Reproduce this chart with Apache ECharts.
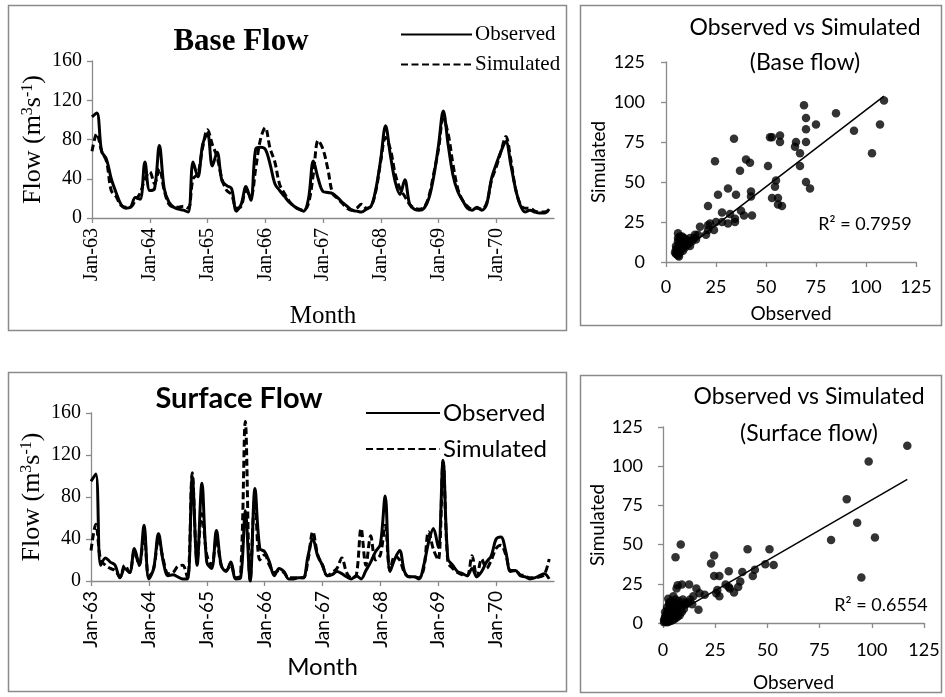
<!DOCTYPE html>
<html>
<head>
<meta charset="utf-8">
<script src="https://cdn.jsdelivr.net/npm/echarts@6/dist/echarts.min.js"></script>
<style>
html,body{margin:0;padding:0;background:#fff;}
#chart{width:945px;height:697px;}
</style>
</head>
<body>
<div id="chart"></div>
<script>
// Month labels Jan-63 ... Jan-71 (the last slot closes the axis)
const monthNames = ['Jan','Feb','Mar','Apr','May','Jun','Jul','Aug','Sep','Oct','Nov','Dec'];
const yearLabels = ['63','64','65','66','67','68','69','70'];
const endLabel = 'Jan-71';

// Monthly base flow (m3/s), 1963-1970
const baseObserved = [
  103,107,68,60,40,26,14,10,11,21,19,57,
  28,30,74,30,16,11,9,8,6,57,42,75,
  86,53,67,38,33,30,7,14,32,18,70,72,
  70,55,35,28,22,16,12,9,7,20,58,40,
  27,26,25,21,16,12,8,7,6,9,12,30,
  60,94,64,37,24,39,14,9,8,10,20,42,
  74,109,75,44,27,18,10,8,11,8,14,40,
  55,68,78,55,30,13,6,8,6,5,5,9
];
const baseSimulated = [
  68,86,68,58,28,22,13,11,11,18,25,40,
  47,35,50,28,14,11,11,12,10,40,45,72,
  90,75,62,40,28,24,10,12,28,22,50,80,
  92,71,57,34,25,17,12,9,8,15,45,79,
  70,50,25,20,15,10,8,10,14,10,12,28,
  58,82,70,45,30,22,14,10,9,11,22,45,
  70,101,86,55,30,18,12,9,10,9,15,38,
  52,68,83,60,30,14,10,10,7,6,6,8
];

// Monthly surface flow (m3/s), 1963-1970
const surfaceObserved = [
  95,102,15,22,18,15,3,12,8,31,15,53,
  2,12,45,18,5,6,4,2,2,99,15,93,
  18,12,48,15,9,18,2,3,67,0,88,31,
  28,18,5,12,9,2,2,3,3,24,40,24,
  15,5,6,9,7,4,2,5,2,10,18,28,
  35,81,9,21,29,9,4,4,2,15,37,50,
  32,115,21,15,9,7,5,12,4,9,18,24,
  40,42,28,9,10,5,4,2,3,5,7,2
];
const surfaceSimulated = [
  29,54,20,15,12,10,4,15,8,28,15,45,
  4,12,40,20,7,8,14,15,3,103,20,64,
  25,15,40,15,10,15,3,5,152,0,79,20,
  25,15,8,10,8,3,3,3,3,20,47,25,
  15,5,8,12,22,8,3,5,50,15,43,20,
  25,53,10,24,20,8,4,4,3,12,47,30,
  20,113,18,12,8,6,5,24,4,21,12,20,
  31,34,25,10,10,6,5,3,3,4,6,21
];

// Observed vs simulated pairs, base flow
const baseScatterObs = [109,107,103,94,85,75,69,70,70,70,65,64.5,67,67,70,72,57,57,52,53,51,55,54.5,53,56,56,58,34,40,42,37,24.5,31,35,26,42.5,42.5,43,21,32,28,37.5,39,34.5,34.5,31,28,25,22,24,21,21,20,17,16,14,14.5,15,12,10,9,7,6,
  5,5.5,6,6.5,7,7.5,8,8,9,9.5,10,6,5,7,8,11,12,6.5,5.5,7,9,6,10,12,13,5,4.5,8.5,11,7,6,9];
const baseScatterSim = [101,86,68,82,93,86,98,90,83,75,75,72,68,60,50,46,79,75,78,78,60,51,47,40,40,36,35,77,64,62,57,63,46,42,42,44,41,29,35,30,31,32,29,27,25,24,25,25,24,20,23,20,17,22,17,15,17,14,13,11,14,16,18,
  5,7,9,11,6,8,10,13,12,9,12,4,10,14,16,13,10,3.5,6,12,15,13,14,15,13,8,6,7,11,9,15,10];
const baseTrend = { slope: 0.96, intercept: -1.0, xFrom: 4.5, xTo: 109 };

// Observed vs simulated pairs, surface flow
const surfScatterObs = [117,98.5,88,93,101.5,80.5,95,51,40.5,49,53,44,43,38,37,36,34,31.5,31.5,30,32,24.5,23,24.5,27,26,25.5,27,8.5,6,7,9,6.5,12.5,16,20,17.5,14.5,13,17,9.5,10.5,5,2.5,3,
  0.5,1,1.5,2,2.5,3,3.5,4,4.5,5,1,1.5,2,2.5,3,3.5,4,5,5.5,6,6.5,7,7.5,8,9,10,11,12,1,2,3,4,5,6,0.5,1,2,3,4,5,6,7,8,2,3,4,5.5,7,9,14];
const surfScatterSim = [113,103,79,64,54.5,53,29,47,47,37.5,37,34,30,32.5,26.5,23,19.5,33,23,24.5,22,43,38,30,30,21,19,17,50,42,24,24.5,22,24.5,22,18,19,17,15,8.5,15,13,17,15.5,13,
  0.5,1,2,1,3,2,4,3,5,4,3,5,6,8,9,7,10,8,6,11,9,12,14,10,11,9,12,13,7,10,12,14,13,15,2,4,4,5,6,2,3,4,5,0.5,1,1.5,3,6,7,12];
const surfTrend = { slope: 0.77, intercept: 1.5, xFrom: 0.5, xTo: 117 };

// Category labels for the monthly axes
const months = [];
yearLabels.forEach(y => monthNames.forEach(m => months.push(m + '-' + y)));
months.push(endLabel);

const serif = 'Liberation Serif';
const sans = 'Lato';
const gray = '#8a8a8a';
const isYearStart = i => i % 12 === 0 && i < months.length - 1;

function trendPoints(t) {
  return [[t.xFrom, t.intercept + t.slope * t.xFrom], [t.xTo, t.intercept + t.slope * t.xTo]];
}
function pairs(xs, ys) { return xs.map((x, i) => [x, ys[i]]); }

function timeXAxis(grid, font, size, nameSize, gap, margin) {
  return {
    type: 'category', gridIndex: grid, data: months, boundaryGap: false,
    axisLine: { lineStyle: { color: gray, width: 1.3 } },
    axisTick: { interval: isYearStart, length: 5, lineStyle: { color: gray, width: 1.3 } },
    axisLabel: { interval: isYearStart, rotate: 90, margin: margin, color: '#000', fontFamily: font, fontSize: size },
    splitLine: { show: false },
    name: 'Month', nameLocation: 'middle', nameGap: gap,
    nameTextStyle: { fontFamily: font, fontSize: nameSize, color: '#000' }
  };
}
function flowYAxis(grid, size, nameSize, gap) {
  return {
    type: 'value', gridIndex: grid, min: 0, max: 160, interval: 40,
    axisLine: { show: true, lineStyle: { color: gray, width: 1.3 } },
    axisTick: { show: true, length: 5, lineStyle: { color: gray, width: 1.3 } },
    axisLabel: { margin: 10, color: '#000', fontFamily: serif, fontSize: size },
    splitLine: { show: false },
    name: '{n|Flow (m}{s|3}{n|s}{s|-1}{n|)}', nameLocation: 'middle', nameRotate: 90, nameGap: gap,
    nameTextStyle: { rich: {
      n: { fontFamily: serif, fontSize: nameSize, color: '#000' },
      s: { fontFamily: serif, fontSize: Math.round(nameSize * 0.62), color: '#000', verticalAlign: 'top' }
    } }
  };
}
function scatterAxis(dim, grid, name, gap, margin) {
  return {
    type: 'value', gridIndex: grid, min: 0, max: 125, interval: 25,
    axisLine: { show: true, lineStyle: { color: gray, width: 1.3 } },
    axisTick: { show: true, length: 5, lineStyle: { color: gray, width: 1.3 } },
    axisLabel: { margin: margin, color: '#000', fontFamily: sans, fontSize: 18 },
    splitLine: { show: false },
    name: name, nameLocation: 'middle', nameGap: gap,
    nameRotate: dim === 'y' ? 90 : 0,
    nameTextStyle: { fontFamily: sans, fontSize: 19, color: '#000' }
  };
}
function frame(x, y, w, h) {
  return { type: 'rect', silent: true, z: -10,
    shape: { x: x, y: y, width: w, height: h },
    style: { fill: 'transparent', stroke: gray, lineWidth: 1.5 } };
}
const solid = { color: '#000', width: 3, type: 'solid' };
const dashed = { color: '#000', width: 3, type: [7, 3.5] };

const chart = echarts.init(document.getElementById('chart'), null, { renderer: 'canvas' });
chart.setOption({
  animation: false,
  backgroundColor: '#fff',
  graphic: [
    frame(8.5, 5.5, 558, 325),
    frame(580.5, 5.5, 361, 320),
    frame(8.5, 372.5, 558, 319),
    frame(580.5, 375.5, 361, 317)
  ],
  title: [
    { text: 'Base Flow', left: 236, top: 21, textAlign: 'center',
      textStyle: { fontFamily: serif, fontWeight: 'bold', fontSize: 31, color: '#000' } },
    { text: 'Observed vs Simulated\n(Base flow)', left: 800, top: 5, textAlign: 'center',
      textStyle: { fontFamily: sans, fontWeight: 'normal', fontSize: 23, lineHeight: 35, color: '#000' } },
    { text: 'R² = 0.7959', left: 860, top: 210, textAlign: 'center',
      textStyle: { fontFamily: sans, fontWeight: 'normal', fontSize: 18, color: '#000' } },
    { text: 'Surface Flow', left: 234, top: 379, textAlign: 'center',
      textStyle: { fontFamily: sans, fontWeight: 'bold', fontSize: 29, color: '#000' } },
    { text: 'Observed vs Simulated\n(Surface flow)', left: 804, top: 373, textAlign: 'center',
      textStyle: { fontFamily: sans, fontWeight: 'normal', fontSize: 23, lineHeight: 37, color: '#000' } },
    { text: 'R² = 0.6554', left: 876, top: 591, textAlign: 'center',
      textStyle: { fontFamily: sans, fontWeight: 'normal', fontSize: 18, color: '#000' } }
  ],
  legend: [
    { data: ['Observed', 'Simulated'], orient: 'vertical', left: 395, top: 19,
      itemWidth: 71, itemHeight: 12, itemGap: 9, selectedMode: false,
      itemStyle: { opacity: 0 },
      textStyle: { fontFamily: serif, fontSize: 21, color: '#000', padding: [0, 0, 0, -2] } },
    { data: ['Observed', 'Simulated'], orient: 'vertical', left: 360, top: 396,
      itemWidth: 74, itemHeight: 12, itemGap: 12, selectedMode: false,
      itemStyle: { opacity: 0 },
      textStyle: { fontFamily: sans, fontSize: 24, color: '#000', padding: [0, 0, 0, -2] } }
  ],
  grid: [
    { left: 92, top: 61, width: 462, height: 157 },
    { left: 666, top: 62, width: 250, height: 200 },
    { left: 91, top: 413, width: 463, height: 168 },
    { left: 663, top: 427, width: 261, height: 196 }
  ],
  xAxis: [
    timeXAxis(0, serif, 20, 25, 86, 10),
    scatterAxis('x', 1, 'Observed', 42, 16),
    timeXAxis(2, sans, 19, 24, 74, 10),
    scatterAxis('x', 3, 'Observed', 50, 18)
  ],
  yAxis: [
    flowYAxis(0, 20, 26, 46),
    scatterAxis('y', 1, 'Simulated', 58, 21),
    flowYAxis(2, 20, 26, 46),
    scatterAxis('y', 3, 'Simulated', 50, 20)
  ],
  series: [
    { name: 'Observed', type: 'line', xAxisIndex: 0, yAxisIndex: 0, data: baseObserved,
      symbol: 'none', smooth: 0.35, lineStyle: solid, itemStyle: { color: '#000' } },
    { name: 'Simulated', type: 'line', xAxisIndex: 0, yAxisIndex: 0, data: baseSimulated,
      symbol: 'none', smooth: 0.35, lineStyle: dashed, itemStyle: { color: '#000' } },
    { name: 'Observed', type: 'line', xAxisIndex: 2, yAxisIndex: 2, data: surfaceObserved,
      symbol: 'none', smooth: 0.35, lineStyle: solid, itemStyle: { color: '#000' } },
    { name: 'Simulated', type: 'line', xAxisIndex: 2, yAxisIndex: 2, data: surfaceSimulated,
      symbol: 'none', smooth: 0.35, lineStyle: dashed, itemStyle: { color: '#000' } },
    { type: 'scatter', xAxisIndex: 1, yAxisIndex: 1, data: pairs(baseScatterObs, baseScatterSim),
      symbolSize: 8.5, itemStyle: { color: '#000' } },
    { type: 'line', xAxisIndex: 1, yAxisIndex: 1, data: trendPoints(baseTrend),
      symbol: 'none', lineStyle: { color: '#000', width: 1.5 } },
    { type: 'scatter', xAxisIndex: 3, yAxisIndex: 3, data: pairs(surfScatterObs, surfScatterSim),
      symbolSize: 8.5, itemStyle: { color: '#000' } },
    { type: 'line', xAxisIndex: 3, yAxisIndex: 3, data: trendPoints(surfTrend),
      symbol: 'none', lineStyle: { color: '#000', width: 1.5 } }
  ]
});
</script>
</body>
</html>
